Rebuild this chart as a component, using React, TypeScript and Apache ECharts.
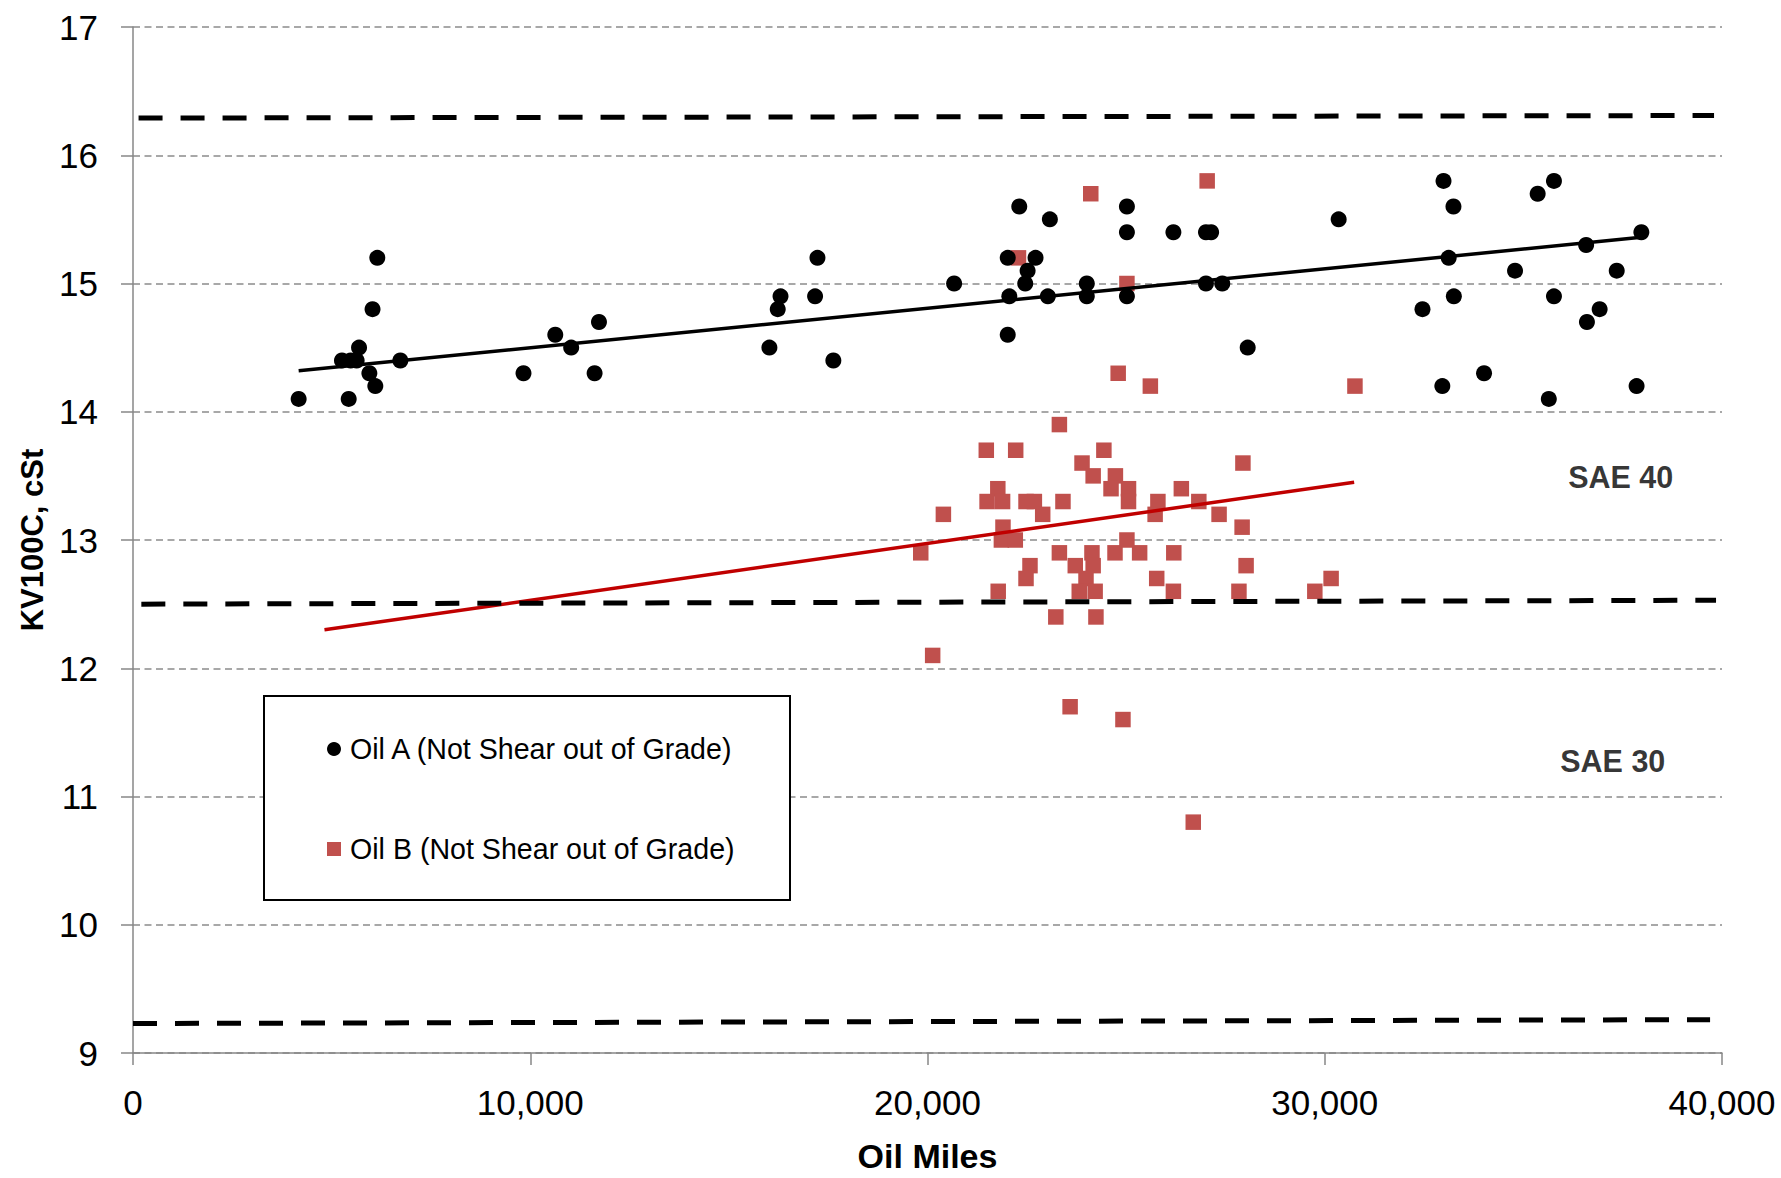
import React, { useEffect, useRef } from "react";
import * as echarts from "echarts";

const FONT = "'Liberation Sans', Arial, sans-serif";

const NAME_A = "Oil A (Not Shear out of Grade)";
const NAME_B = "Oil B (Not Shear out of Grade)";

// Oil A (black circles)
const oilAMiles = [
  4170, 5260, 5430, 5480, 5630, 5690, 5950, 6030, 6100, 6150, 6730,
  9830, 10630, 11030, 11620, 11730,
  16020, 16230, 16300, 17170, 17230, 17630,
  20670, 22020, 22060, 22020, 22310, 22520, 22460, 22720, 23030, 23080,
  24010, 24010, 25020, 25020, 25020, 26190, 27010, 27140, 27010, 27420, 28060,
  30350, 32460, 32960, 32990, 33120, 33240, 33250, 34010, 34790, 35360,
  35640, 35770, 35770, 36580, 36600, 36920, 37350, 37850, 37970,
];
const oilAKv = [
  14.1, 14.4, 14.1, 14.4, 14.4, 14.5, 14.3, 14.8, 14.2, 15.2, 14.4,
  14.3, 14.6, 14.5, 14.3, 14.7,
  14.5, 14.8, 14.9, 14.9, 15.2, 14.4,
  15.0, 15.2, 14.9, 14.6, 15.6, 15.1, 15.0, 15.2, 14.9, 15.5,
  15.0, 14.9, 15.6, 15.4, 14.9, 15.4, 15.4, 15.4, 15.0, 15.0, 14.5,
  15.5, 14.8, 14.2, 15.8, 15.2, 15.6, 14.9, 14.3, 15.1, 15.7,
  14.1, 14.9, 15.8, 15.3, 14.7, 14.8, 15.1, 14.2, 15.4,
];

// Oil B (red squares)
const oilBMiles = [
  23320, 21480, 22220, 24440, 23890, 24170, 24730, 21770, 24620, 25060,
  21500, 21890, 22480, 22690, 23410, 25060, 20400, 22900, 21900, 21860,
  22210, 19830, 23320, 24140, 24720, 25340, 25020, 22580, 23720, 24170,
  22480, 23990, 21780, 23820, 24220, 23230, 24240, 20130, 23590, 24920,
  26690, 27940, 26390, 25800, 26830, 25730, 27340, 27920, 26200, 28020,
  25770, 30160, 26190, 27840, 29750, 24110, 27040, 22290, 25020, 24800,
  25610, 30760,
];
const oilBKv = [
  13.9, 13.7, 13.7, 13.7, 13.6, 13.5, 13.5, 13.4, 13.4, 13.4,
  13.3, 13.3, 13.3, 13.3, 13.3, 13.3, 13.2, 13.2, 13.1, 13.0,
  13.0, 12.9, 12.9, 12.9, 12.9, 12.9, 13.0, 12.8, 12.8, 12.8,
  12.7, 12.7, 12.6, 12.6, 12.6, 12.4, 12.4, 12.1, 11.7, 11.6,
  10.8, 13.6, 13.4, 13.3, 13.3, 13.2, 13.2, 13.1, 12.9, 12.8,
  12.7, 12.7, 12.6, 12.6, 12.6, 15.7, 15.8, 15.2, 15.0, 14.3,
  14.2, 14.2,
];

// Trend lines (endpoints)
const trendAMiles = [4170, 37970];
const trendAKv = [14.32, 15.36];
const trendBMiles = [4820, 30740];
const trendBKv = [12.3, 13.45];

// Grade limit lines
const sae40UpperMiles = [140, 39800];
const sae40UpperKv = [16.29, 16.31];
const sae40LowerMiles = [210, 39850];
const sae40LowerKv = [12.5, 12.53];
const sae30LowerMiles = [0, 39700];
const sae30LowerKv = [9.23, 9.26];

// Grade labels
const gradeNames = ["SAE 40", "SAE 30"];
const gradeMiles = [37450, 37250];
const gradeKv = [13.49, 11.28];

// Axis ticks
const xTicks = { min: 0, max: 40000, interval: 10000 };
const yTicks = { min: 9, max: 17, interval: 1 };

const zip = (xs: number[], ys: number[]) => xs.map((x, i) => [x, ys[i]]);

export default function App() {
  const ref = useRef<HTMLDivElement>(null);
  useEffect(() => {
    if (!ref.current) return;
    const chart = echarts.init(ref.current, undefined, { renderer: "svg" });
    const axisColor = "#878787";
    const limitLine = (xs: number[], ys: number[], name: string) => ({
      name,
      type: "line",
      data: zip(xs, ys),
      symbol: "none",
      silent: true,
      z: 4,
      lineStyle: { color: "#000", width: 5, type: [24, 18], cap: "butt" },
    });
    const option: any = {
      animation: false,
      backgroundColor: "#fff",
      textStyle: { fontFamily: FONT },
      grid: { left: 133, right: 59, top: 27, bottom: 119, containLabel: false },
      xAxis: {
        type: "value",
        min: xTicks.min,
        max: xTicks.max,
        interval: xTicks.interval,
        name: "Oil Miles",
        nameLocation: "middle",
        nameGap: 86,
        nameTextStyle: { fontSize: 34, fontWeight: "bold", color: "#000", fontFamily: FONT },
        axisLine: { show: true, lineStyle: { color: axisColor, width: 1.5 } },
        axisTick: { show: true, length: 12, lineStyle: { color: axisColor, width: 1.5 } },
        axisLabel: {
          fontSize: 35,
          color: "#000",
          margin: 32,
          fontFamily: FONT,
          formatter: (v: number) => v.toLocaleString("en-US"),
        },
        splitLine: { show: false },
      },
      yAxis: {
        type: "value",
        min: yTicks.min,
        max: yTicks.max,
        interval: yTicks.interval,
        name: "KV100C, cSt",
        nameLocation: "middle",
        nameGap: 85,
        nameTextStyle: { fontSize: 31, fontWeight: "bold", color: "#000", fontFamily: FONT },
        axisLine: { show: true, lineStyle: { color: axisColor, width: 1.5 } },
        axisTick: { show: true, length: 12, lineStyle: { color: axisColor, width: 1.5 } },
        axisLabel: { fontSize: 35, color: "#000", margin: 35, fontFamily: FONT },
        splitLine: { show: true, lineStyle: { color: "#8c8c8c", width: 1.5, type: [7, 4.5] } },
      },
      legend: {
        orient: "vertical",
        left: 327,
        top: 734,
        padding: 0,
        itemGap: 70,
        itemWidth: 14,
        itemHeight: 14,
        z: 5,
        data: [
          { name: NAME_A, icon: "circle" },
          { name: NAME_B, icon: "rect" },
        ],
        textStyle: { fontSize: 28.6, color: "#000", lineHeight: 30, fontFamily: FONT, padding: [0, 0, 0, 4] },
      },
      graphic: [
        {
          type: "rect",
          z: 3,
          shape: { x: 264, y: 696, width: 526, height: 204 },
          style: { fill: "#fff", stroke: "#000", lineWidth: 2 },
        },
      ],
      series: [
        {
          name: NAME_B,
          type: "scatter",
          symbol: "rect",
          symbolSize: 15.5,
          itemStyle: { color: "#C0504D", opacity: 1 },
          data: zip(oilBMiles, oilBKv),
          z: 2,
        },
        {
          name: NAME_A,
          type: "scatter",
          symbol: "circle",
          symbolSize: 16,
          itemStyle: { color: "#000", opacity: 1 },
          data: zip(oilAMiles, oilAKv),
          z: 2,
        },
        {
          name: "trendA",
          type: "line",
          data: zip(trendAMiles, trendAKv),
          symbol: "none",
          silent: true,
          z: 3,
          lineStyle: { color: "#000", width: 3.5 },
        },
        {
          name: "trendB",
          type: "line",
          data: zip(trendBMiles, trendBKv),
          symbol: "none",
          silent: true,
          z: 3,
          lineStyle: { color: "#C00000", width: 3.5 },
        },
        limitLine(sae40UpperMiles, sae40UpperKv, "limit1"),
        limitLine(sae40LowerMiles, sae40LowerKv, "limit2"),
        limitLine(sae30LowerMiles, sae30LowerKv, "limit3"),
        {
          name: "grades",
          type: "scatter",
          symbolSize: 0.1,
          silent: true,
          itemStyle: { color: "rgba(0,0,0,0)" },
          data: gradeNames.map((n, i) => ({ name: n, value: [gradeMiles[i], gradeKv[i]] })),
          label: {
            show: true,
            position: "inside",
            formatter: "{b}",
            fontSize: 30.5,
            fontWeight: "bold",
            color: "#000",
            fontFamily: FONT,
          },
          z: 5,
        },
      ],
    };
    chart.setOption(option);
    return () => chart.dispose();
  }, []);
  return (
    <div
      ref={ref}
      style={{ position: "fixed", left: 0, top: 0, width: 1781, height: 1178, background: "#fff" }}
    />
  );
}
